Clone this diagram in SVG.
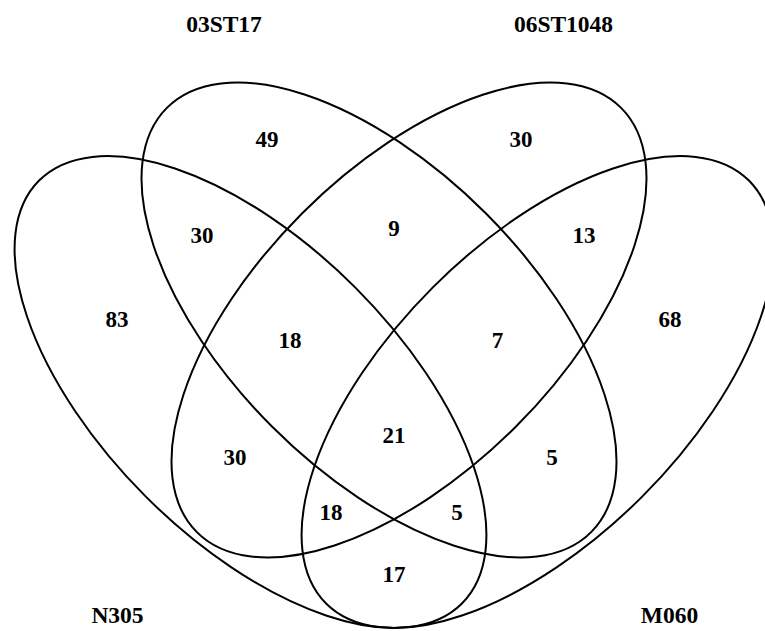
<svg xmlns="http://www.w3.org/2000/svg" width="765" height="631" viewBox="0 0 765 631">
<style>
.set{fill:none;stroke:#000;stroke-width:2}
.num{font-family:"Liberation Serif","Times New Roman",serif;font-weight:bold;font-size:23px;text-anchor:middle;fill:#000}
.lbl{font-family:"Liberation Serif","Times New Roman",serif;font-weight:bold;font-size:23.5px;text-anchor:middle;fill:#000}
</style>
<rect width="765" height="631" fill="#fff"/>
<g id="set-N305">
<ellipse class="set" cx="250.5" cy="392" rx="299" ry="148" transform="rotate(45 250.5 392)"/>
<text class="lbl" x="117.5" y="623">N305</text>
</g>
<g id="set-03ST17">
<ellipse class="set" cx="379" cy="320" rx="300" ry="151" transform="rotate(45 379 320)"/>
<text class="lbl" x="224" y="32">03ST17</text>
</g>
<g id="set-06ST1048">
<ellipse class="set" cx="409" cy="320" rx="300" ry="151" transform="rotate(-45 409 320)"/>
<text class="lbl" x="563.5" y="32">06ST1048</text>
</g>
<g id="set-M060">
<ellipse class="set" cx="537.5" cy="392" rx="299" ry="148" transform="rotate(-45 537.5 392)"/>
<text class="lbl" x="669.5" y="623">M060</text>
</g>
<g id="counts">
<text class="num" x="267" y="147">49</text>
<text class="num" x="521" y="147">30</text>
<text class="num" x="202" y="243">30</text>
<text class="num" x="394" y="236">9</text>
<text class="num" x="584" y="243">13</text>
<text class="num" x="117" y="327">83</text>
<text class="num" x="670" y="327">68</text>
<text class="num" x="290" y="348">18</text>
<text class="num" x="497.5" y="348">7</text>
<text class="num" x="394" y="443">21</text>
<text class="num" x="235" y="465">30</text>
<text class="num" x="552" y="465">5</text>
<text class="num" x="331" y="520">18</text>
<text class="num" x="457" y="520">5</text>
<text class="num" x="394" y="582">17</text>
</g>
</svg>
